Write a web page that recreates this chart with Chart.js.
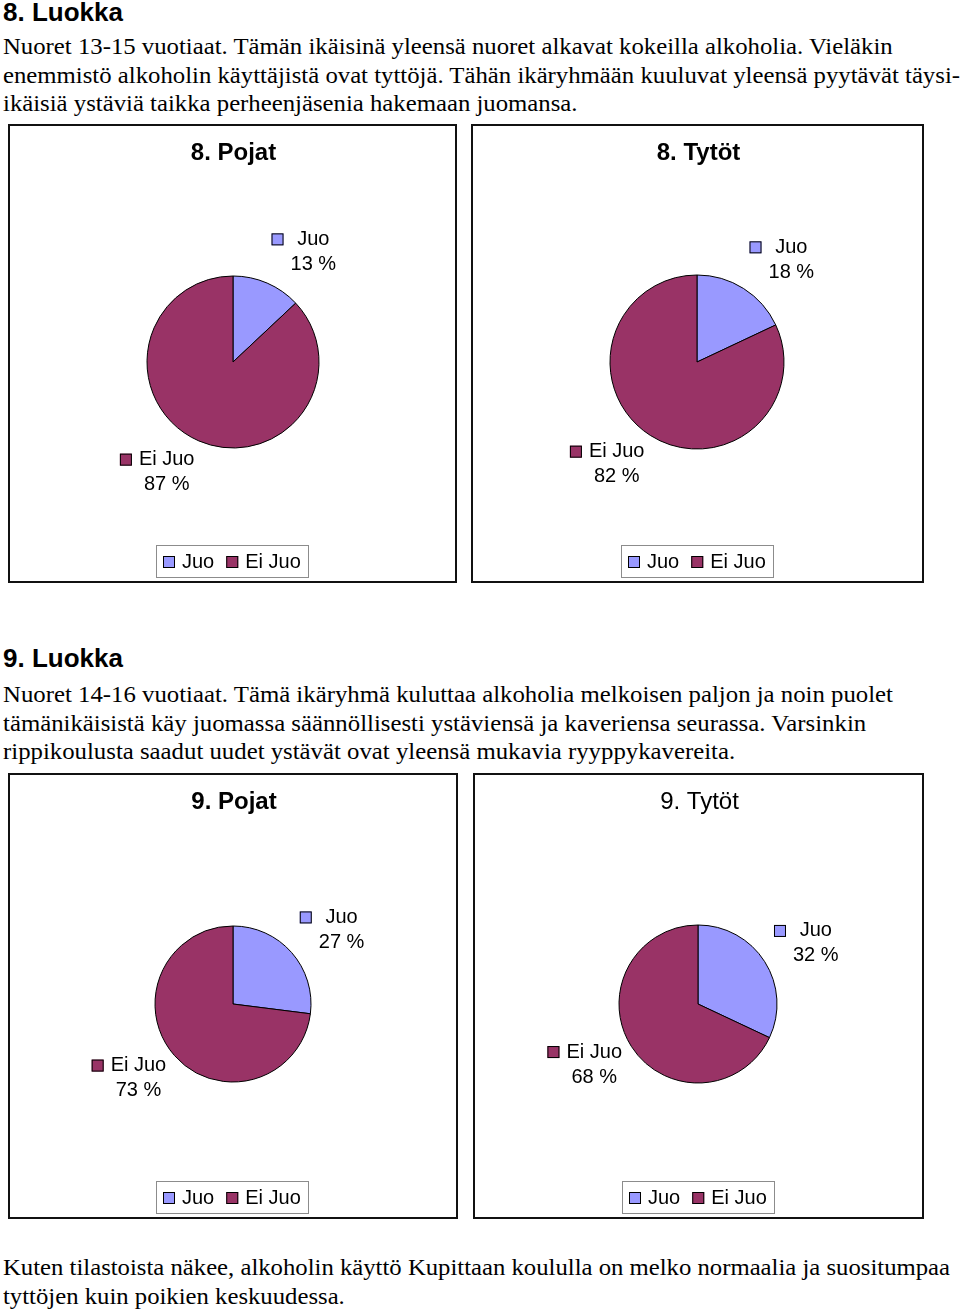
<!DOCTYPE html>
<html>
<head>
<meta charset="utf-8">
<script src="https://cdn.jsdelivr.net/npm/chart.js@4.4.1/dist/chart.umd.min.js"></script>
<style>
body { margin: 0; background: #fff; width: 960px; height: 1313px; position: relative; overflow: hidden; }
.h { position: absolute; left: 3px; font: bold 26px/26px "Liberation Sans", Arial, sans-serif; color: #000; }
.p { position: absolute; left: 3px; font: 24px/28.7px "Liberation Serif", "Times New Roman", Times, serif; white-space: nowrap; transform-origin: 0 0; color: #000; }
.box { position: absolute; border: 2px solid #111; background: #fff; }
.box canvas { display: block; }
</style>
</head>
<body>
<div class="h" style="top:-1px">8. Luokka</div>
<div class="p" id="p1" style="top:32px">Nuoret 13-15 vuotiaat. Tämän ikäisinä yleensä nuoret alkavat kokeilla alkoholia. Vieläkin<br>enemmistö alkoholin käyttäjistä ovat tyttöjä. Tähän ikäryhmään kuuluvat yleensä pyytävät täysi-<br>ikäisiä ystäviä taikka perheenjäsenia hakemaan juomansa.</div>
<div class="box" style="left:8px;top:124px"><canvas id="c1" width="445" height="455"></canvas></div>
<div class="box" style="left:471px;top:124px"><canvas id="c2" width="449" height="455"></canvas></div>

<div class="h" style="top:645px">9. Luokka</div>
<div class="p" id="p2" style="top:680px">Nuoret 14-16 vuotiaat. Tämä ikäryhmä kuluttaa alkoholia melkoisen paljon ja noin puolet<br>tämänikäisistä käy juomassa säännöllisesti ystäviensä ja kaveriensa seurassa. Varsinkin<br>rippikoulusta saadut uudet ystävät ovat yleensä mukavia ryyppykavereita.</div>
<div class="box" style="left:8px;top:773px"><canvas id="c3" width="446" height="442"></canvas></div>
<div class="box" style="left:473px;top:773px"><canvas id="c4" width="447" height="442"></canvas></div>

<div class="p" id="p3" style="top:1253px">Kuten tilastoista näkee, alkoholin käyttö Kupittaan koululla on melko normaalia ja suositumpaa<br>tyttöjen kuin poikien keskuudessa.</div>

<script>
// data
const categories = ['Juo', 'Ei Juo'];
const pojat8 = [13, 87];
const tytot8 = [18, 82];
const pojat9 = [27, 73];
const tytot9 = [32, 68];
const chartTitles = ['8. Pojat', '8. Tytöt', '9. Pojat', '9. Tytöt'];
const sliceColors = ['#9999FF', '#993366'];

const SANS = '"Liberation Sans", Arial, sans-serif';

// --- text widths like in the scanned page ---
function fitWidth(id, target) {
    const el = document.getElementById(id);
    const w = el.getBoundingClientRect().width;
    el.style.transform = 'scaleX(' + (target / w) + ')';
}
fitWidth('p1', 957);
fitWidth('p2', 890);
fitWidth('p3', 947);

// --- labels next to slices, title and boxed legend ---
const pieDecor = {
    id: 'pieDecor',
    afterDatasetsDraw(chart, args, opts) {
        const ctx = chart.ctx;
        const ds = chart.data.datasets[0];
        const labels = chart.data.labels;
        const meta = chart.getDatasetMeta(0);

        ctx.save();
        ctx.textBaseline = 'middle';
        ctx.textAlign = 'left';
        ctx.fillStyle = '#000';

        // title
        ctx.font = (opts.bold ? 'bold ' : '') + '24px ' + SANS;
        const tw = ctx.measureText(opts.title).width;
        ctx.fillText(opts.title, chart.width / 2 + 1 - tw / 2, 27);

        ctx.font = '20px ' + SANS;
        ctx.lineWidth = 1;

        function marker(x, y, color) {
            ctx.fillStyle = color;
            ctx.fillRect(x, y - 6, 12, 12);
            ctx.strokeStyle = '#000';
            ctx.strokeRect(x + 0.5, y - 5.5, 11, 11);
            ctx.fillStyle = '#000';
        }

        // data labels: marker + centred two-line text block outside the slice
        meta.data.forEach((arc, i) => {
            const mid = (arc.startAngle + arc.endAngle) / 2;
            const dx = Math.cos(mid), dy = Math.sin(mid);
            const k = arc.outerRadius + 11;
            const name = labels[i];
            const pct = ds.data[i] + ' %';
            const w1 = ctx.measureText(name).width;
            const w2 = ctx.measureText(pct).width;
            const wmax = Math.max(w1, w2);
            const W = 19 + wmax, H = 46;
            const bx = arc.x + dx * k + Math.sign(dx) * W / 2;
            const by = arc.y + dy * k + dy * H / 2;
            const left = bx - W / 2;
            const tc = left + 19 + wmax / 2;
            const y1 = by - 12.5;
            marker(left, y1, ds.backgroundColor[i]);
            ctx.fillText(name, tc - w1 / 2, y1);
            ctx.fillText(pct, tc - w2 / 2, y1 + 25);
        });

        // legend
        const widths = labels.map(l => ctx.measureText(l).width);
        let total = 14 + 12 * (labels.length - 1);
        widths.forEach(w => total += 19 + w);
        const lx = Math.round((chart.width - total) / 2) - 1;
        const ly = chart.height - 36;
        ctx.strokeStyle = '#8c8c8c';
        ctx.strokeRect(lx + 0.5, ly + 0.5, Math.round(total), 32);
        let x = lx + 7;
        labels.forEach((l, i) => {
            marker(x, ly + 17, ds.backgroundColor[i]);
            ctx.fillText(l, x + 19, ly + 17);
            x += 19 + widths[i] + 12;
        });
        ctx.restore();
    }
};

const layouts = [
    { id: 'c1', values: pojat8, title: chartTitles[0], bold: true,  cx: 223, cy: 236, r: 86 },
    { id: 'c2', values: tytot8, title: chartTitles[1], bold: true,  cx: 224, cy: 236, r: 87 },
    { id: 'c3', values: pojat9, title: chartTitles[2], bold: true,  cx: 223, cy: 229, r: 78 },
    { id: 'c4', values: tytot9, title: chartTitles[3], bold: false, cx: 223, cy: 229, r: 79 }
];

layouts.forEach(L => {
    const canvas = document.getElementById(L.id);
    const R = L.r + 10;
    new Chart(canvas.getContext('2d'), {
        type: 'pie',
        data: {
            labels: categories,
            datasets: [{
                data: L.values,
                backgroundColor: sliceColors,
                borderColor: '#000',
                borderWidth: 1
            }]
        },
        options: {
            responsive: false,
            animation: false,
            radius: L.r,
            layout: {
                padding: {
                    left: L.cx - R,
                    right: canvas.width - L.cx - R,
                    top: L.cy - R,
                    bottom: canvas.height - L.cy - R
                }
            },
            plugins: {
                legend: { display: false },
                tooltip: { enabled: false },
                pieDecor: { title: L.title, bold: L.bold }
            }
        },
        plugins: [pieDecor]
    });
});
</script>
</body>
</html>
